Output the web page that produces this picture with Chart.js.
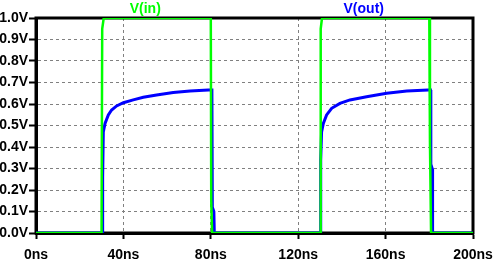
<!DOCTYPE html>
<html>
<head>
<meta charset="utf-8">
<script src="https://cdn.jsdelivr.net/npm/chart.js@4/dist/chart.umd.min.js"></script>
<style>
html,body{margin:0;padding:0;background:#fff;}
#c{display:block;}
</style>
</head>
<body>
<canvas id="c" width="493" height="259"></canvas>
<script>
// Series names
const seriesNames = ['V(in)', 'V(out)'];
// Where the series name labels sit (ns)
const seriesLabelAt = [50, 150];

// V(in) samples (time in ns, value in V)
const vinTime  = [0, 30.0, 30.3, 31.0, 80.0, 80.2, 80.6, 130.0, 130.3, 130.9, 180.0, 180.3, 180.8, 200];
const vinValue = [0, 0,    0.95, 1.0,  1.0,  0.15, 0,    0,     0.95,  1.0,   1.0,   0.42,  0,     0];

// V(out) samples (time in ns, value in V)
const voutTime  = [0, 30.3, 30.5, 30.8, 31.6, 33.1, 34.6, 36.9, 40.0, 44.5, 49.1, 55.2, 62.8, 70.5, 78.9, 80.5, 80.7, 81.4, 81.6,
                   130.0, 130.3, 130.7, 131.5, 133.0, 135.3, 139.1, 143.7, 151.3, 160.5, 169.7, 179.5, 180.5, 180.7, 181.3, 181.5, 200];
const voutValue = [0, 0,    0.26, 0.47, 0.51, 0.549, 0.572, 0.591, 0.606, 0.619, 0.631, 0.642, 0.653, 0.660, 0.665, 0.665, 0.12, 0.10, 0,
                   0,     0.34,  0.47,  0.51,  0.549, 0.58,  0.603, 0.619, 0.634, 0.65,  0.66,  0.665, 0.665, 0.32,  0.30,  0,     0];

// Tick labels
const xTickLabels = ['0ns', '40ns', '80ns', '120ns', '160ns', '200ns'];
const yTickLabels = ['0.0V', '0.1V', '0.2V', '0.3V', '0.4V', '0.5V', '0.6V', '0.7V', '0.8V', '0.9V', '1.0V'];

const toXY = (t, v) => t.map((x, i) => ({x: x, y: v[i]}));

const FONT = 'Liberation Sans, Arial, sans-serif';

const frameAndNames = {
  id: 'frameAndNames',
  beforeDatasetsDraw(chart) {
    const {ctx, chartArea: a} = chart;
    ctx.save();
    ctx.strokeStyle = '#000';
    ctx.lineWidth = 3;
    ctx.strokeRect(a.left, a.top, a.right - a.left, a.bottom - a.top);
    ctx.restore();
  },
  afterDraw(chart) {
    const {ctx} = chart;
    const xs = chart.scales.x;
    ctx.save();
    ctx.font = 'bold 14px ' + FONT;
    ctx.textAlign = 'center';
    ctx.textBaseline = 'middle';
    chart.data.datasets.forEach((ds, i) => {
      ctx.fillStyle = ds.borderColor;
      ctx.fillText(ds.label, xs.getPixelForValue(seriesLabelAt[i]), 9);
    });
    ctx.restore();
  }
};

new Chart(document.getElementById('c'), {
  type: 'line',
  data: {
    datasets: [
      {label: seriesNames[0], data: toXY(vinTime, vinValue), borderColor: '#00ff00', borderWidth: 2.5, pointRadius: 0, tension: 0, fill: false},
      {label: seriesNames[1], data: toXY(voutTime, voutValue), borderColor: '#0000ff', borderWidth: 3, pointRadius: 0, tension: 0, fill: false}
    ]
  },
  options: {
    responsive: false,
    animation: false,
    devicePixelRatio: 1,
    layout: {padding: {top: 18, right: 20, left: 0, bottom: 0}},
    plugins: {legend: {display: false}, tooltip: {enabled: false}, title: {display: false}},
    scales: {
      x: {
        type: 'linear', min: 0, max: 200,
        afterFit(s) { s.height = 26; },
        ticks: {
          stepSize: 40, color: '#000', padding: 0, maxRotation: 0, autoSkip: false,
          font: {family: FONT, size: 14, weight: 'bold', lineHeight: 2.35},
          callback: (v, i) => xTickLabels[i]
        },
        grid: {color: '#808080', lineWidth: 1, tickColor: '#000', tickLength: 6, tickWidth: 2, tickBorderDash: []},
        border: {display: true, color: '#000', width: 3, dash: [3, 3]}
      },
      y: {
        type: 'linear', min: 0, max: 1,
        afterFit(s) { s.width = 36; },
        ticks: {
          stepSize: 0.1, color: '#000', padding: 1, autoSkip: false,
          font: {family: FONT, size: 14, weight: 'bold'},
          callback: (v, i) => yTickLabels[i]
        },
        grid: {color: '#808080', lineWidth: 1, tickColor: '#000', tickLength: 7, tickWidth: 2, tickBorderDash: []},
        border: {display: true, color: '#000', width: 3, dash: [3, 3]}
      }
    }
  },
  plugins: [frameAndNames]
});
</script>
</body>
</html>
